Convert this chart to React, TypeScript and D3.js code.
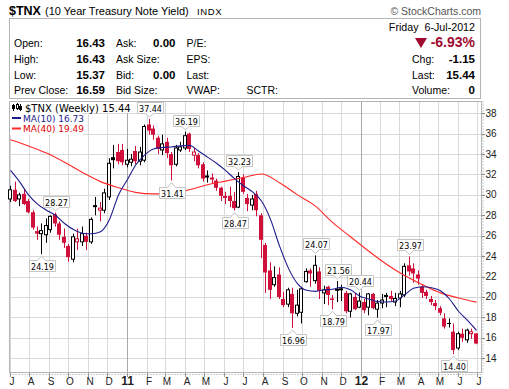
import React from "react";
import * as d3 from "d3";

// --- Data: $TNX weekly bars (yield x 10), week of 5-Jul-2010 .. week of 2-Jul-2012 ---
const opens = [
  29.6, 30.5, 29.6, 30.1, 29.4, 28.3, 26.45, 26.2, 26.1, 26.6,
  28.1, 27.2, 25.9, 25.0, 23.7, 25.4, 25.4, 26.0, 25.4, 29.0,
  28.5, 28.5, 29.8, 33.7, 34.2, 34.4, 33.0, 33.2, 34.3, 33.3,
  33.4, 36.9, 36.5, 35.6, 34.4, 35.2, 34.0, 33.0, 34.4, 34.6,
  36.0, 33.9, 33.9, 33.0, 31.9, 31.7, 31.4, 30.7, 29.9, 29.9,
  29.4, 28.8, 31.7, 29.7, 29.0, 30.1, 28.0, 25.1, 22.6, 21.2,
  22.2, 19.8, 19.3, 20.3, 18.4, 18.5, 21.5, 22.6, 21.6, 22.5,
  20.4, 21.0, 19.85, 20.8, 20.85, 20.4, 18.6, 20.0, 19.0, 19.5,
  19.0, 20.3, 18.8, 19.4, 20.2, 20.1, 19.5, 19.9, 20.2, 23.1,
  22.8, 22.2, 21.0, 20.5, 19.8, 19.4, 18.9, 17.9, 17.45, 16.6,
  15.0, 16.4, 15.8, 16.4, 16.43,
];
const highs = [
  30.9, 31.3, 30.2, 30.6, 29.6, 28.5, 26.9, 27.2, 27.7, 28.0,
  28.27, 27.4, 26.7, 25.2, 26.2, 26.7, 26.9, 26.3, 27.8, 29.8,
  29.3, 30.6, 33.6, 34.9, 35.0, 35.0, 34.5, 34.0, 34.8, 34.7,
  36.9, 37.44, 36.8, 35.8, 35.9, 35.6, 34.2, 34.9, 35.2, 36.19,
  36.1, 34.6, 34.1, 33.2, 32.4, 32.1, 31.6, 30.8, 30.3, 30.8,
  30.3, 32.23, 32.0, 30.1, 30.0, 30.4, 28.2, 25.3, 23.4, 23.0,
  22.9, 20.5, 20.9, 20.9, 20.7, 21.0, 22.8, 22.8, 24.07, 22.9,
  21.1, 21.1, 20.2, 21.56, 21.2, 20.6, 20.4, 20.4, 20.44, 19.8,
  20.4, 20.4, 19.7, 20.3, 20.4, 20.6, 20.4, 20.6, 23.3, 23.97,
  23.3, 22.6, 21.2, 20.7, 20.1, 19.7, 19.1, 18.4, 17.9, 17.4,
  16.6, 16.9, 16.9, 16.9, 16.43,
];
const lows = [
  29.3, 29.3, 28.9, 29.0, 28.2, 26.6, 25.6, 24.19, 25.3, 26.3,
  26.9, 25.6, 24.8, 23.45, 23.4, 24.6, 25.0, 24.6, 25.2, 28.0,
  27.4, 28.2, 29.5, 32.6, 33.0, 32.9, 32.7, 32.8, 33.0, 32.9,
  33.2, 35.9, 35.4, 34.0, 33.9, 33.6, 31.41, 32.8, 34.2, 34.4,
  34.2, 33.3, 32.6, 31.3, 31.2, 31.1, 30.4, 29.4, 29.1, 28.8,
  28.47, 28.7, 30.1, 28.4, 28.5, 27.9, 23.8, 20.4, 19.8, 21.0,
  19.8, 19.0, 19.0, 16.96, 18.1, 17.4, 21.4, 21.0, 21.3, 19.8,
  19.3, 19.2, 18.79, 19.5, 19.6, 18.4, 18.0, 18.7, 18.9, 18.4,
  18.2, 18.8, 17.97, 18.9, 19.0, 19.6, 19.1, 19.0, 20.0, 22.1,
  21.4, 21.2, 19.9, 19.8, 19.2, 18.7, 18.2, 16.9, 17.0, 14.4,
  14.8, 15.6, 15.5, 15.9, 15.37,
];
const closes = [
  30.5, 29.4, 30.0, 29.1, 28.3, 26.8, 26.2, 26.5, 27.0, 27.9,
  27.2, 26.1, 25.3, 23.9, 25.9, 25.7, 26.2, 25.4, 27.6, 28.8,
  28.7, 30.2, 33.1, 33.4, 33.3, 33.2, 33.4, 33.5, 33.3, 34.2,
  36.7, 36.3, 35.9, 34.5, 35.0, 34.1, 32.9, 34.6, 34.7, 35.8,
  34.5, 34.2, 32.9, 31.6, 31.7, 31.5, 30.7, 29.9, 29.7, 29.4,
  28.7, 31.8, 30.3, 29.1, 29.6, 28.5, 25.6, 22.4, 20.7, 21.9,
  20.0, 19.2, 20.7, 18.4, 19.2, 20.8, 22.5, 22.3, 23.1, 20.6,
  20.7, 20.2, 19.7, 20.6, 20.65, 18.6, 20.3, 18.8, 19.6, 18.7,
  20.3, 18.9, 19.4, 19.7, 20.0, 19.8, 19.85, 20.3, 23.0, 22.5,
  22.3, 21.8, 20.4, 20.1, 19.5, 19.1, 18.45, 17.1, 17.35, 14.8,
  16.4, 16.0, 16.75, 16.59, 15.44,
];

// moving averages (MA10 on every 2nd bar, MA40 on every 4th bar)
const ma10 = [
  32.4, 31.3, 30.0, 29.1, 28.5, 28.0, 27.2, 26.6, 26.25, 26.2, 26.4, 27.6, 30.0,
  31.5, 32.9, 33.9, 34.5, 34.65, 34.7, 34.8, 34.85, 34.3, 33.7, 33.1, 32.4, 31.6,
  30.9, 30.3, 29.4, 27.6, 25.0, 22.8, 21.3, 20.65, 20.55, 20.7, 20.75, 20.95, 20.7,
  20.1, 19.8, 19.55, 19.5, 19.6, 20.2, 20.85, 21.0, 20.9, 20.6, 19.8, 18.6, 17.7, 16.73,
];
const ma40 = [
  35.4, 34.8, 34.1, 33.2, 32.2, 31.3, 30.7, 30.25, 30.1, 30.15, 30.5, 31.0, 31.35,
  31.7, 32.05, 31.2, 30.0, 28.9, 27.3, 25.9, 24.5, 23.2, 22.1, 21.2, 20.4, 19.9, 19.49,
];

const yTicks = [14, 16, 18, 20, 22, 24, 26, 28, 30, 32, 34, 36, 38];

// swing highs / lows that carry a value tag
const peaks: [number, "H" | "L"][] = [
  [7, "L"], [10, "H"], [31, "H"], [36, "L"], [39, "H"], [50, "L"], [51, "H"],
  [63, "L"], [68, "H"], [72, "L"], [73, "H"], [78, "H"], [82, "L"], [89, "H"], [99, "L"],
];

const quoteRows = [
  ["Open:", "16.43", "Ask:", "0.00", "P/E:", ""],
  ["High:", "16.43", "Ask Size:", "", "EPS:", ""],
  ["Low:", "15.37", "Bid:", "0.00", "Last:", ""],
  ["Prev Close:", "16.59", "Bid Size:", "", "VWAP:", "SCTR:"],
];
const rightRows = [
  ["Chg:", "-1.15"],
  ["Last:", "15.44"],
  ["Volume:", "0"],
];

const RED = "#d0103a";
const BLACK = "#000";
const SANS = "'Liberation Sans', Arial, sans-serif";
const VERD = "'DejaVu Sans', Verdana, sans-serif";

export default function App() {
  const width = 509;
  const height = 389;
  const plot = { left: 9.5, right: 481.5, top: 101.5, bottom: 372.5 };

  const x = d3
    .scaleTime()
    .domain([new Date(2010, 6, 1), new Date(2012, 6, 8)])
    .range([plot.left, plot.right]);
  const y = d3.scaleLinear().domain([12.55, 39.2]).range([373, 101]);

  const weeks = d3.timeMonday.range(new Date(2010, 6, 5), new Date(2012, 6, 3));
  const bx = (i: number) => Math.round(x(d3.timeDay.offset(weeks[i], -3))) + 0.5;
  const months = d3.timeMonth.range(new Date(2010, 6, 1), new Date(2012, 6, 2));

  const line = d3
    .line<[number, number]>()
    .x((d) => bx(d[0]))
    .y((d) => y(d[1]))
    .curve(d3.curveMonotoneX);
  const ma10Path = line(ma10.map((v, k) => [Math.min(k * 2, 104), v]));
  const ma40Path = line(ma40.map((v, k) => [Math.min(k * 4, 104), v]));

  const rowY = [46.5, 62.5, 78.5, 94];

  return (
    <svg
      width={width}
      height={height}
      style={{ position: "absolute", left: 0, top: 0, background: "#fff" }}
    >
      {/* header */}
      <text x={9} y={15} fontFamily={SANS} fill="#000">
        <tspan fontWeight="bold" fontSize={12.5}>$TNX</tspan>
        <tspan x={45} fontSize={11}>(10 Year Treasury Note Yield)</tspan>
        <tspan x={197} fontSize={9.5} letterSpacing={0.6}>INDX</tspan>
      </text>
      <text x={481} y={15} textAnchor="end" fontFamily={SANS} fontSize={10.5} fill="#555">
        © StockCharts.com
      </text>
      <rect x={9.5} y={18.5} width={471} height={80} fill="#fff" stroke="#b4b4b4" />
      <text x={475} y={30.5} textAnchor="end" fontFamily={SANS} fontSize={10.7} style={{ whiteSpace: "pre" }}>
        {"Friday  6-Jul-2012"}
      </text>
      {quoteRows.map((r, k) => (
        <g key={k} fontFamily={SANS} fontSize={10.5}>
          <text x={14} y={rowY[k]}>{r[0]}</text>
          <text x={105} y={rowY[k]} textAnchor="end" fontWeight="bold" fontSize={11.5}>{r[1]}</text>
          <text x={116} y={rowY[k]}>{r[2]}</text>
          <text x={175.5} y={rowY[k]} textAnchor="end" fontWeight="bold" fontSize={11.5}>{r[3]}</text>
          <text x={186.5} y={rowY[k]}>{r[4]}</text>
          <text x={246.5} y={rowY[k]}>{r[5]}</text>
        </g>
      ))}
      <path d="M415,38 L427,38 L421,48 Z" fill="#9e0b2f" />
      <text x={475} y={47} textAnchor="end" fontFamily={SANS} fontSize={14} fontWeight="bold" fill="#9e0b2f">
        -6.93%
      </text>
      {rightRows.map((r, k) => (
        <g key={k} fontFamily={SANS}>
          <text x={412} y={rowY[k + 1]} fontSize={10.5}>{r[0]}</text>
          <text x={475} y={rowY[k + 1]} textAnchor="end" fontSize={11.5} fontWeight="bold">{r[1]}</text>
        </g>
      ))}

      {/* grid */}
      {yTicks.map((v) => (
        <line key={v} x1={plot.left} x2={plot.right} y1={Math.round(y(v)) + 0.5} y2={Math.round(y(v)) + 0.5} stroke="#d9d9d9" />
      ))}
      {months.map((m, k) => {
        const mx = Math.round(x(m)) + 0.5;
        return (
          <line key={k} x1={mx} x2={mx} y1={plot.top} y2={plot.bottom} stroke={m.getMonth() === 0 ? "#a8a8a8" : "#d9d9d9"} />
        );
      })}
      <rect x={plot.left} y={plot.top} width={plot.right - plot.left} height={plot.bottom - plot.top} fill="none" stroke="#b4b4b4" />

      {/* candles */}
      {closes.map((c, i) => {
        const o = opens[i];
        const prev = i ? closes[i - 1] : o;
        const col = c < prev ? RED : BLACK;
        const cx = bx(i);
        const top = y(Math.max(o, c));
        const bot = y(Math.min(o, c));
        const h = Math.max(bot - top, 1);
        return (
          <g key={i}>
            <line x1={cx} x2={cx} y1={y(highs[i])} y2={y(lows[i])} stroke={col} />
            {c >= o ? (
              <rect x={cx - 2} y={top} width={3} height={h} fill="#fff" stroke={col} />
            ) : (
              <rect x={cx - 2.5} y={top} width={4} height={h} fill={col} />
            )}
          </g>
        );
      })}

      {/* moving averages */}
      <path d={ma40Path ?? ""} fill="none" stroke="#ff2a2a" strokeWidth={1.1} />
      <path d={ma10Path ?? ""} fill="none" stroke="#1c1c8c" strokeWidth={1.1} />

      {/* value tags */}
      {peaks.map(([i, t]) => {
        const v = t === "H" ? highs[i] : lows[i];
        const cx = bx(i);
        const w = 26;
        const bh = 11;
        const tip = t === "H" ? y(v) - 2 : y(v) + 2;
        const l = Math.round(cx - w / 2) + 0.5;
        const r = l + w;
        let d: string;
        let ty: number;
        if (t === "H") {
          const b = Math.round(tip - 4) + 0.5;
          const tp = b - bh;
          d = `M${l},${tp}H${r}V${b}H${cx + 4}L${cx},${tip}L${cx - 4},${b}H${l}Z`;
          ty = b - 2;
        } else {
          const tp = Math.round(tip + 4) + 0.5;
          const b = tp + bh;
          d = `M${l},${tp}H${cx - 4}L${cx},${tip}L${cx + 4},${tp}H${r}V${b}H${l}Z`;
          ty = b - 2;
        }
        return (
          <g key={i}>
            <path d={d} fill="#fff" stroke="#c4c4c4" />
            <text x={(l + r) / 2} y={ty} textAnchor="middle" fontFamily={VERD} fontSize={8}>
              {v.toFixed(2)}
            </text>
          </g>
        );
      })}

      {/* legend */}
      <rect x={10} y={102} width={124} height={11} fill="#fff" />
      <rect x={10} y={113} width={73} height={22} fill="#fff" />
      <g stroke="#000">
        <line x1={13.5} x2={13.5} y1={104} y2={111} />
        <rect x={12.5} y={105.5} width={2} height={3} fill="#000" />
        <line x1={17.5} x2={17.5} y1={103} y2={110} />
        <rect x={16.5} y={104.5} width={2} height={4} fill="#fff" />
        <line x1={20.5} x2={20.5} y1={104} y2={111} />
        <rect x={19.5} y={106.5} width={2} height={3} fill="#000" />
      </g>
      <text x={25} y={111.5} fontFamily={VERD} fontSize={10} fill="#000">
        $TNX (Weekly) 15.44
      </text>
      <line x1={12} x2={21} y1={118} y2={118} stroke="#1c1c8c" strokeWidth={2} />
      <text x={23} y={121.5} fontFamily={VERD} fontSize={9} fill="#1c1c8c">
        MA(10) 16.73
      </text>
      <line x1={12} x2={21} y1={128.5} y2={128.5} stroke="#ff2a2a" strokeWidth={2} />
      <text x={23} y={132} fontFamily={VERD} fontSize={9} fill="#e00000">
        MA(40) 19.49
      </text>

      {/* right axis */}
      <line x1={483} x2={483} y1={plot.top} y2={plot.bottom} stroke="#999" strokeDasharray="1,2" />
      {yTicks.map((v) => (
        <g key={v}>
          <line x1={481.5} x2={485} y1={Math.round(y(v)) + 0.5} y2={Math.round(y(v)) + 0.5} stroke="#888" />
          <text x={485.5} y={y(v) + 3.5} fontFamily={SANS} fontSize={10} fill="#222">
            {v}
          </text>
        </g>
      ))}

      {/* bottom axis */}
      <line x1={plot.left} x2={plot.right} y1={374.5} y2={374.5} stroke="#999" strokeDasharray="1,2" />
      {months.map((m, k) => {
        const mx = Math.round(x(m)) + 0.5;
        const jan = m.getMonth() === 0;
        return (
          <g key={k}>
            <line x1={mx} x2={mx} y1={373} y2={377} stroke="#999" />
            <text
              x={jan ? mx : mx + 1.5}
              y={385}
              textAnchor="middle"
              fontFamily={SANS}
              fontSize={jan ? 12 : 10}
              fontWeight={jan ? "bold" : "normal"}
              fill="#222"
            >
              {jan ? d3.timeFormat("%y")(m) : d3.timeFormat("%B")(m)[0]}
            </text>
          </g>
        );
      })}
    </svg>
  );
}
